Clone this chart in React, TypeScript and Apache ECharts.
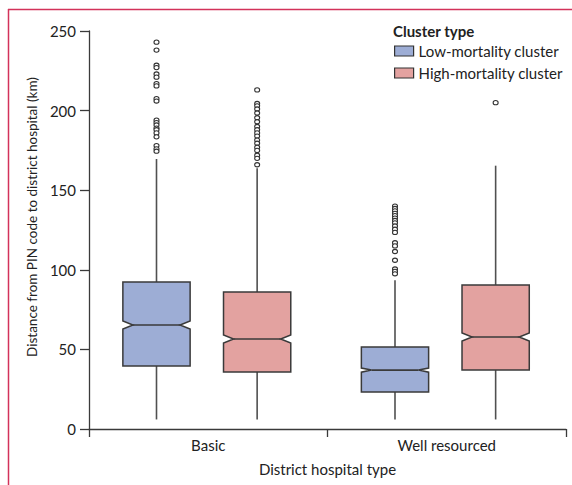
import React, { useEffect, useRef } from "react";
import * as echarts from "echarts";

const categories = ["Basic", "Well resourced"];
const seriesNames = ["Low-mortality cluster", "High-mortality cluster"];
const legendTitle = "Cluster type";
const yTicks = { min: 0, max: 250, interval: 50 };

// [categoryIndex, lowerWhisker, q1, median, q3, upperWhisker, notchLow, notchHigh]
const lowBoxes = [
  [0, 6, 39.6, 65.3, 92.3, 169.6, 62.8, 67.8],
  [1, 6, 23.2, 37, 51.5, 93.5, 35.7, 38.3],
];
const highBoxes = [
  [0, 6, 35.8, 56.5, 86, 163.8, 54, 59],
  [1, 6, 37, 57.8, 90.5, 165.4, 55.3, 60.3],
];

const basicLowOutliers = [243, 238, 228.5, 227, 223, 221, 217, 215.5, 207.5, 206, 194, 192.5, 191, 189, 188, 186, 183.5, 178, 176, 174.5];
const basicHighOutliers = [213, 204.5, 203, 201, 198.5, 195.5, 193, 190, 188, 186, 184, 181.5, 179.5, 177, 175, 172, 170, 166];
const wellLowOutliers = [140, 138.5, 137, 135.5, 134, 132.5, 131, 129.5, 127.5, 125.5, 123.5, 117, 115, 111.5, 106, 100.5, 99, 97.5];
const wellHighOutliers = [205];

const BLUE = "#9dadd5";
const PINK = "#e3a2a0";
const STROKE = "#3a3a3a";
const FONT = "Lato";

function boxRender(offsetFrac: number, fill: string) {
  return (params: any, api: any) => {
    const cat = api.value(0);
    const band = api.size([1, 0])[0];
    const cx = api.coord([cat, 0])[0] + offsetFrac * band;
    const hw = band * 0.141;
    const L = cx - hw;
    const R = cx + hw;
    const y = (v: number) => api.coord([cat, v])[1];
    const lo = y(api.value(1));
    const q1 = y(api.value(2));
    const med = y(api.value(3));
    const q3 = y(api.value(4));
    const hi = y(api.value(5));
    const nl = y(api.value(6));
    const nh = y(api.value(7));
    const d = hw * 2 * 0.15;
    const lineStyle = { stroke: "#505050", lineWidth: 1.6 };
    return {
      type: "group",
      children: [
        { type: "line", shape: { x1: cx, y1: q3, x2: cx, y2: hi }, style: lineStyle },
        { type: "line", shape: { x1: cx, y1: q1, x2: cx, y2: lo }, style: lineStyle },
        {
          type: "polygon",
          shape: {
            points: [
              [L, q3], [R, q3], [R, nh], [R - d, med], [R, nl], [R, q1],
              [L, q1], [L, nl], [L + d, med], [L, nh],
            ],
          },
          style: { fill, stroke: STROKE, lineWidth: 1.5 },
        },
        { type: "line", shape: { x1: L + d, y1: med, x2: R - d, y2: med }, style: { stroke: STROKE, lineWidth: 1.6 } },
      ],
    };
  };
}

function outlierRender(offsetFrac: number) {
  return (params: any, api: any) => {
    const cat = api.value(0);
    const band = api.size([1, 0])[0];
    const p = api.coord([cat, api.value(1)]);
    return {
      type: "ellipse",
      shape: { cx: p[0] + offsetFrac * band, cy: p[1], rx: 2.5, ry: 2.1 },
      style: { fill: "#fff", stroke: "#333", lineWidth: 1.1 },
    };
  };
}

const toPoints = (cat: number, arr: number[]) => arr.map((v) => [cat, v]);

const LOW_OFF = -0.217;
const HIGH_OFF = 0.205;

export default function App() {
  const ref = useRef<HTMLDivElement>(null);
  useEffect(() => {
    if (!ref.current) return;
    const chart = echarts.init(ref.current, null, { renderer: "svg" });
    chart.setOption({
      animation: false,
      textStyle: { fontFamily: FONT },
      grid: { left: 89, top: 31, right: 6, bottom: 56 },
      title: {
        text: legendTitle,
        left: 393,
        top: 23,
        padding: 0,
        textStyle: { fontFamily: FONT, fontSize: 15, fontWeight: "bold", color: "#222" },
      },
      legend: {
        orient: "vertical",
        left: 394,
        top: 43.5,
        padding: 0,
        itemWidth: 19,
        itemHeight: 10,
        itemGap: 7,
        textStyle: { fontFamily: FONT, fontSize: 15, lineHeight: 15, color: "#222" },
        data: [
          { name: seriesNames[0], icon: "rect", itemStyle: { color: BLUE, borderColor: "#333", borderWidth: 1.2 } },
          { name: seriesNames[1], icon: "rect", itemStyle: { color: PINK, borderColor: "#333", borderWidth: 1.2 } },
        ],
      },
      xAxis: {
        type: "category",
        data: categories,
        boundaryGap: true,
        name: "District hospital type",
        nameLocation: "middle",
        nameGap: 32,
        nameTextStyle: { fontFamily: FONT, fontSize: 15, color: "#222" },
        axisLine: { lineStyle: { color: STROKE, width: 1.3 } },
        axisTick: { show: true, length: 8, lineStyle: { color: STROKE, width: 1.3 } },
        axisLabel: { fontFamily: FONT, fontSize: 15, color: "#222", margin: 8 },
        splitLine: { show: false },
      },
      yAxis: {
        type: "value",
        min: yTicks.min,
        max: yTicks.max,
        interval: yTicks.interval,
        name: "Distance from PIN code to district hospital (km)",
        nameLocation: "middle",
        nameGap: 50,
        nameTextStyle: { fontFamily: FONT, fontSize: 13.5, color: "#222", padding: [0, 0, 0, 26] },
        axisLine: { show: true, lineStyle: { color: STROKE, width: 1.3 } },
        axisTick: { show: true, length: 9, lineStyle: { color: STROKE, width: 1.3 } },
        axisLabel: { fontFamily: FONT, fontSize: 15, color: "#222", margin: 13 },
        splitLine: { show: false },
      },
      graphic: [
        { type: "line", shape: { x1: 8, y1: 9.5, x2: 572, y2: 9.5 }, style: { stroke: "#d3325a", lineWidth: 1.5 } },
        { type: "line", shape: { x1: 8.5, y1: 9, x2: 8.5, y2: 485 }, style: { stroke: "#d3325a", lineWidth: 1.5 } },
      ],
      series: [
        {
          name: seriesNames[0],
          type: "custom",
          renderItem: boxRender(LOW_OFF, BLUE),
          encode: { x: 0, y: [1, 2, 3, 4, 5] },
          itemStyle: { color: BLUE },
          data: lowBoxes,
        },
        {
          name: seriesNames[1],
          type: "custom",
          renderItem: boxRender(HIGH_OFF, PINK),
          encode: { x: 0, y: [1, 2, 3, 4, 5] },
          itemStyle: { color: PINK },
          data: highBoxes,
        },
        {
          name: "Low-mortality outliers",
          type: "custom",
          renderItem: outlierRender(LOW_OFF),
          encode: { x: 0, y: 1 },
          data: [...toPoints(0, basicLowOutliers), ...toPoints(1, wellLowOutliers)],
        },
        {
          name: "High-mortality outliers",
          type: "custom",
          renderItem: outlierRender(HIGH_OFF),
          encode: { x: 0, y: 1 },
          data: [...toPoints(0, basicHighOutliers), ...toPoints(1, wellHighOutliers)],
        },
      ],
    });
    return () => chart.dispose();
  }, []);
  return (
    <div
      ref={ref}
      style={{ position: "fixed", left: 0, top: 0, width: 572, height: 485, background: "#fff" }}
    />
  );
}
